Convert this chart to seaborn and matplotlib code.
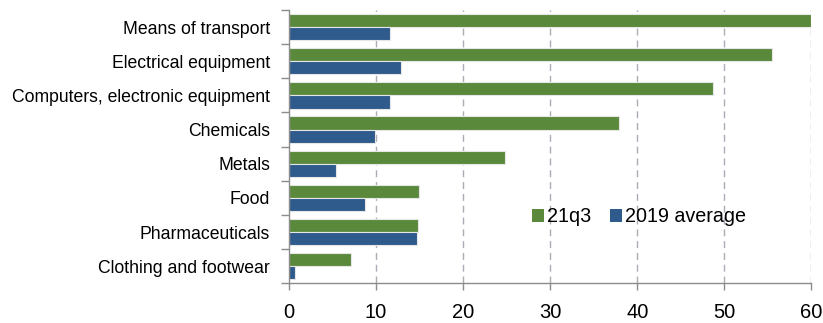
import matplotlib
matplotlib.use("Agg")
import matplotlib.pyplot as plt
import seaborn as sns
import pandas as pd
from matplotlib.patches import Patch

categories = [
    "Means of transport",
    "Electrical equipment",
    "Computers, electronic equipment",
    "Chemicals",
    "Metals",
    "Food",
    "Pharmaceuticals",
    "Clothing and footwear",
]
series_names = ["21q3", "2019 average"]
values_21q3 = [60.0, 55.5, 48.7, 37.9, 24.8, 14.9, 14.8, 7.1]
values_2019 = [11.6, 12.9, 11.6, 9.9, 5.4, 8.7, 14.7, 0.7]
x_ticks = [0, 10, 20, 30, 40, 50, 60]

colors = {"21q3": "#5A893C", "2019 average": "#2F5A8C"}

df = pd.DataFrame({
    "category": categories * 2,
    "series": [series_names[0]] * len(categories) + [series_names[1]] * len(categories),
    "value": values_21q3 + values_2019,
})

sns.set_theme(style="white")
plt.rcParams["font.family"] = ["Liberation Sans", "DejaVu Sans"]
plt.rcParams["text.color"] = "#000000"

fig = plt.figure(figsize=(8.23, 3.23), dpi=100)
ax = fig.add_axes([0.351, 0.123, 0.635, 0.846])

sns.barplot(
    data=df, y="category", x="value", hue="series", orient="h",
    order=categories, hue_order=series_names, palette=colors,
    width=0.77, dodge=True, gap=0, saturation=1,
    edgecolor="#e6e6e6", linewidth=0.8, ax=ax, legend=False,
)

grid_color = "#a9adb5"
for t in x_ticks[1:]:
    ax.axvline(t, color=grid_color, linewidth=1.0, linestyle=(0, (5, 3.5)), zorder=0)

ax.set_xlim(0, 60)
ax.set_ylim(len(categories) - 0.5, -0.5)
ax.set_xticks(x_ticks)
ax.set_xticklabels([str(t) for t in x_ticks], fontsize=14.5)
ax.set_yticks(range(len(categories)))
ax.set_yticklabels(categories, fontsize=12.7)
ax.set_yticks([i - 0.5 for i in range(len(categories) + 1)], minor=True)
ax.tick_params(axis="y", which="major", length=0, pad=13.5, colors="#000000")
ax.tick_params(axis="y", which="minor", left=True, length=6, width=1, color="#8c8c8c")
ax.tick_params(axis="x", which="major", bottom=True, length=5, width=1, color="#8c8c8c", pad=9)
for lbl in ax.get_yticklabels() + ax.get_xticklabels():
    lbl.set_color("#000000")
ax.set_xlabel("")
ax.set_ylabel("")

for side in ["top", "right"]:
    ax.spines[side].set_visible(False)
for side in ["left", "bottom"]:
    ax.spines[side].set_color("#8c8c8c")
    ax.spines[side].set_linewidth(1)

handles = [Patch(facecolor=colors[s], edgecolor="none") for s in series_names]
leg = ax.legend(
    handles, series_names, loc="center left", bbox_to_anchor=(0.45, 0.243),
    ncol=2, frameon=False, fontsize=14.2, handlelength=0.62, handleheight=0.62,
    handletextpad=0.15, columnspacing=0.95, borderaxespad=0,
)
for txt in leg.get_texts():
    txt.set_color("#000000")

fig.savefig("out.png", dpi=100)
